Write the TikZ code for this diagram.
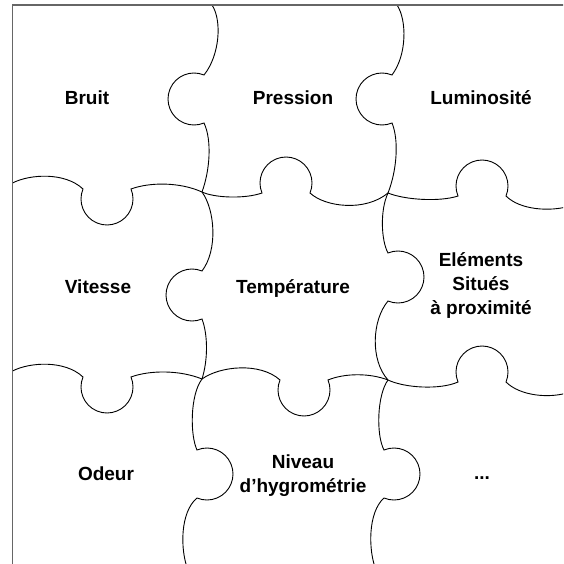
\documentclass[tikz,border=0pt]{standalone}
\usepackage{fontspec}
\setmainfont{Liberation Sans}
\tikzset{
  seam/.style={line width=0.9pt, draw=black},
  frame/.style={line width=1.2pt, draw=black!60},
  lbl/.style={font=\bfseries\fontsize{19}{24}\selectfont, align=center, anchor=base, inner sep=0pt},
  lblm/.style={font=\bfseries\fontsize{19}{24}\selectfont, align=center, anchor=center, inner sep=0pt}
}
\begin{document}
\begin{tikzpicture}[x=1pt, y=-1pt]
\useasboundingbox (0,0) rectangle (563,564);
\clip (0,0) rectangle (563,564);
\draw[seam] (212,5) .. controls (222,20) and (220,55) .. (204,75) arc[start angle=-67.4, delta angle=-225.2, radius=26] .. controls (212,140) and (210,170) .. (202,192);
\draw[seam] (397,5) .. controls (407,20) and (407,55) .. (392,75) arc[start angle=-67.4, delta angle=-225.2, radius=26] .. controls (399,140) and (397,170) .. (388,193);
\draw[seam] (202,192) .. controls (215,210) and (218,250) .. (202,271) arc[start angle=-67.4, delta angle=-225.2, radius=26] .. controls (208,335) and (208,360) .. (202,379);
\draw[seam] (388,193) .. controls (380,210) and (381,240) .. (388,253) arc[start angle=-112.6, delta angle=225.2, radius=26] .. controls (372,320) and (370,360) .. (388,380);
\draw[seam] (202,379) .. controls (190,395) and (190,435) .. (197,450) arc[start angle=-112.6, delta angle=225.2, radius=26] .. controls (180,512) and (180,550) .. (188,570);
\draw[seam] (388,380) .. controls (377,395) and (376,435) .. (384,450) arc[start angle=-112.6, delta angle=225.2, radius=26] .. controls (368,512) and (368,550) .. (376,570);
\draw[seam] (12.5,183) .. controls (30,174) and (65,172) .. (83,189) arc[start angle=202.6, delta angle=-225.2, radius=26] .. controls (150,182) and (180,182) .. (202,192) .. controls (215,198) and (245,199) .. (262,193) arc[start angle=157.4, delta angle=225.2, radius=26] .. controls (325,207) and (365,212) .. (388,193) .. controls (405,200) and (440,202) .. (458,196) arc[start angle=157.4, delta angle=225.2, radius=26] .. controls (520,210) and (550,212) .. (570,206);
\draw[seam] (12.5,371) .. controls (30,362) and (65,360) .. (83,377) arc[start angle=202.6, delta angle=-225.2, radius=26] .. controls (150,370) and (180,370) .. (202,379) .. controls (220,366) and (260,362) .. (280,380) arc[start angle=202.6, delta angle=-225.2, radius=26] .. controls (345,373) and (370,373) .. (388,380) .. controls (405,388) and (440,390) .. (458,382) arc[start angle=157.4, delta angle=225.2, radius=26] .. controls (520,396) and (550,399) .. (570,392);
\draw[frame] (12.5,570) -- (12.5,5) -- (570,5);
\node[lbl] (bruit) at (87,105) {Bruit};
\node[lbl] (pression) at (293,105) {Pression};
\node[lbl] (luminosite) at (481,105) {Luminosité};
\node[lbl] (vitesse) at (98,293) {Vitesse};
\node[lbl] (temperature) at (293,293) {Température};
\node[lblm] (elements) at (481,286) {Eléments\\Situés\\à proximité};
\node[lbl] (odeur) at (106,480) {Odeur};
\node[lblm] (niveau) at (303,476) {Niveau\\d’hygrométrie};
\node[lbl] (suite) at (482,479) {...};
\end{tikzpicture}
\end{document}
